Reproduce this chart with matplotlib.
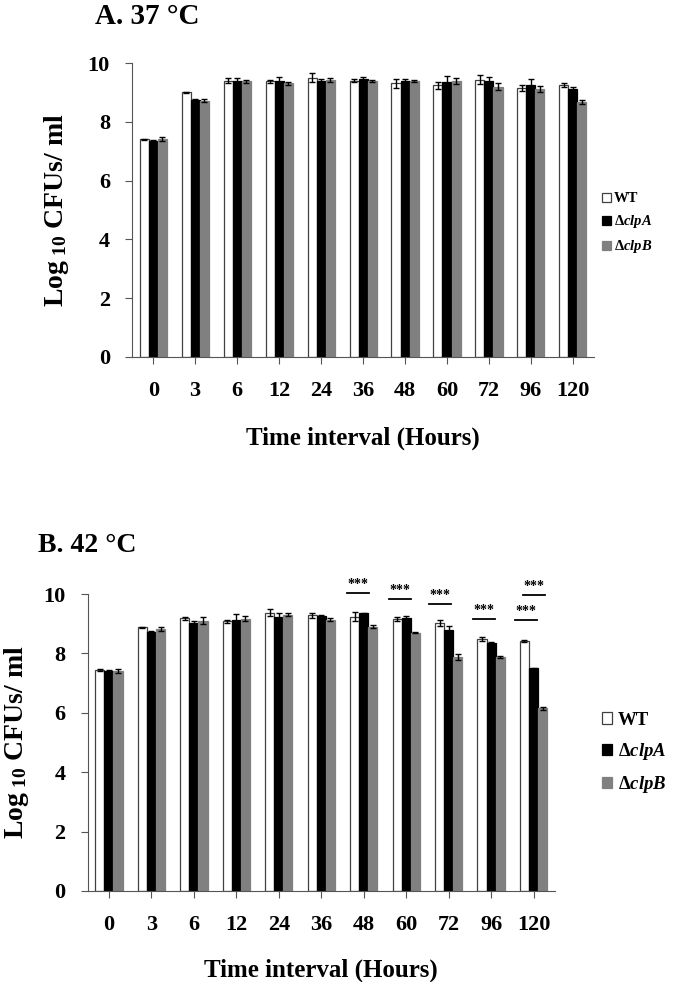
import matplotlib
matplotlib.use("Agg")
import matplotlib.pyplot as plt
import numpy as np

plt.rcParams['font.family'] = ['Liberation Serif', 'DejaVu Serif']
plt.rcParams['font.weight'] = 'bold'
plt.rcParams['mathtext.fontset'] = 'custom'
plt.rcParams['mathtext.rm'] = 'Liberation Serif:bold'
plt.rcParams['mathtext.it'] = 'Liberation Serif:bold:italic'
plt.rcParams['mathtext.bf'] = 'Liberation Serif:bold'

# ---- data ----
hours = ['0', '3', '6', '12', '24', '36', '48', '60', '72', '96', '120']
strains = ['WT', r'Δ$\mathit{clpA}$', r'Δ$\mathit{clpB}$']

wt_37 = [7.40, 9.00, 9.40, 9.38, 9.50, 9.40, 9.31, 9.25, 9.44, 9.16, 9.25]
clpA_37 = [7.35, 8.75, 9.40, 9.40, 9.40, 9.45, 9.40, 9.36, 9.40, 9.25, 9.12]
clpB_37 = [7.42, 8.72, 9.38, 9.32, 9.42, 9.38, 9.39, 9.40, 9.19, 9.12, 8.68]
wt_37_err = [0.03, 0.02, 0.08, 0.06, 0.15, 0.06, 0.15, 0.12, 0.15, 0.10, 0.08]
clpA_37_err = [0.02, 0.02, 0.08, 0.12, 0.06, 0.06, 0.06, 0.20, 0.12, 0.20, 0.05]
clpB_37_err = [0.06, 0.04, 0.05, 0.05, 0.08, 0.04, 0.05, 0.10, 0.12, 0.10, 0.06]

wt_42 = [7.44, 8.88, 9.18, 9.09, 9.37, 9.28, 9.24, 9.15, 9.03, 8.48, 8.43]
clpA_42 = [7.41, 8.73, 9.01, 9.14, 9.24, 9.26, 9.35, 9.18, 8.79, 8.36, 7.50]
clpB_42 = [7.40, 8.82, 9.10, 9.17, 9.31, 9.14, 8.90, 8.70, 7.89, 7.87, 6.15]
wt_42_err = [0.04, 0.01, 0.06, 0.05, 0.12, 0.10, 0.15, 0.07, 0.10, 0.06, 0.03]
clpA_42_err = [0.02, 0.04, 0.10, 0.20, 0.12, 0.05, 0.02, 0.08, 0.15, 0.04, 0.02]
clpB_42_err = [0.07, 0.07, 0.12, 0.08, 0.06, 0.06, 0.05, 0.02, 0.10, 0.03, 0.05]

# significance annotations (panel B): group index, line height, x offset
sig_groups = [6, 7, 8, 9, 10, 10]
sig_heights = [10.03, 9.83, 9.66, 9.16, 9.13, 9.97]
sig_offsets = [-0.14, -0.15, -0.21, -0.16, -0.19, 0.0]

colors = ['white', 'black', '#808080']
edges = ['#404040', 'black', '#808080']

fig = plt.figure(figsize=(6.85, 9.82), dpi=100)

def draw_panel(ax, series, errs, fs_tick=16):
    x = np.arange(len(hours))
    w = 0.215
    handles = []
    for i, (vals, e) in enumerate(zip(series, errs)):
        b = ax.bar(x + (i - 1) * w, vals, w, color=colors[i], edgecolor=edges[i],
                   linewidth=0.9, yerr=e, capsize=2.5,
                   error_kw=dict(ecolor='black', elinewidth=1.0, capthick=1.0),
                   label=strains[i])
        handles.append(b)
    ax.set_xlim(-0.5, len(hours) - 0.5)
    ax.set_ylim(0, 10)
    ax.set_yticks([0, 2, 4, 6, 8, 10])
    ax.set_xticks(x)
    ax.set_xticklabels(hours)
    for s in ['top', 'right']:
        ax.spines[s].set_visible(False)
    for s in ['left', 'bottom']:
        ax.spines[s].set_color('#555555')
        ax.spines[s].set_linewidth(0.8)
    ax.tick_params(axis='both', length=5, width=0.8, color='#555555',
                   labelsize=fs_tick, direction='out')
    ax.tick_params(axis='x', pad=12)
    ax.tick_params(axis='y', pad=11)
    for lab in ax.get_xticklabels() + ax.get_yticklabels():
        lab.set_fontweight('bold')
    return handles

# Panel A
axA = fig.add_axes([0.193, 0.6365, 0.674, 0.2993])
hA = draw_panel(axA, [wt_37, clpA_37, clpB_37], [wt_37_err, clpA_37_err, clpB_37_err])
axA.set_ylabel(r'Log$_{\ 10}$ CFUs/ ml', fontsize=20, fontweight='bold', labelpad=12)
axA.set_xlabel('Time interval (Hours)', fontsize=18, fontweight='bold', labelpad=19)
fig.text(0.138, 0.997, 'A. 37 °C', fontsize=21, fontweight='bold', va='top', ha='left')
fig.legend(handles=hA, labels=strains, loc='upper left', bbox_to_anchor=(0.870, 0.810),
           frameon=False, fontsize=10.5, handlelength=0.6, handleheight=0.6,
           handletextpad=0.25, labelspacing=0.55, borderaxespad=0)

# Panel B
axB = fig.add_axes([0.128, 0.0927, 0.682, 0.3023])
hB = draw_panel(axB, [wt_42, clpA_42, clpB_42], [wt_42_err, clpA_42_err, clpB_42_err])
axB.set_ylabel(r'Log$_{\ 10}$ CFUs/ ml', fontsize=20, fontweight='bold', labelpad=9)
axB.set_xlabel('Time interval (Hours)', fontsize=18, fontweight='bold', labelpad=17)
fig.text(0.055, 0.457, 'B. 42 °C', fontsize=20, fontweight='bold', va='top', ha='left')
fig.legend(handles=hB, labels=strains, loc='upper left', bbox_to_anchor=(0.868, 0.283),
           frameon=False, fontsize=13.5, handlelength=0.55, handleheight=0.55,
           handletextpad=0.3, labelspacing=0.65, borderaxespad=0)

for g, h, o in zip(sig_groups, sig_heights, sig_offsets):
    axB.plot([g + o - 0.26, g + o + 0.26], [h, h], color='black', lw=1.3, clip_on=False)
    axB.text(g + o, h + 0.08, '***', ha='center', va='bottom', fontsize=10,
             fontweight='bold', clip_on=False)

fig.savefig('out.png', dpi=100)
